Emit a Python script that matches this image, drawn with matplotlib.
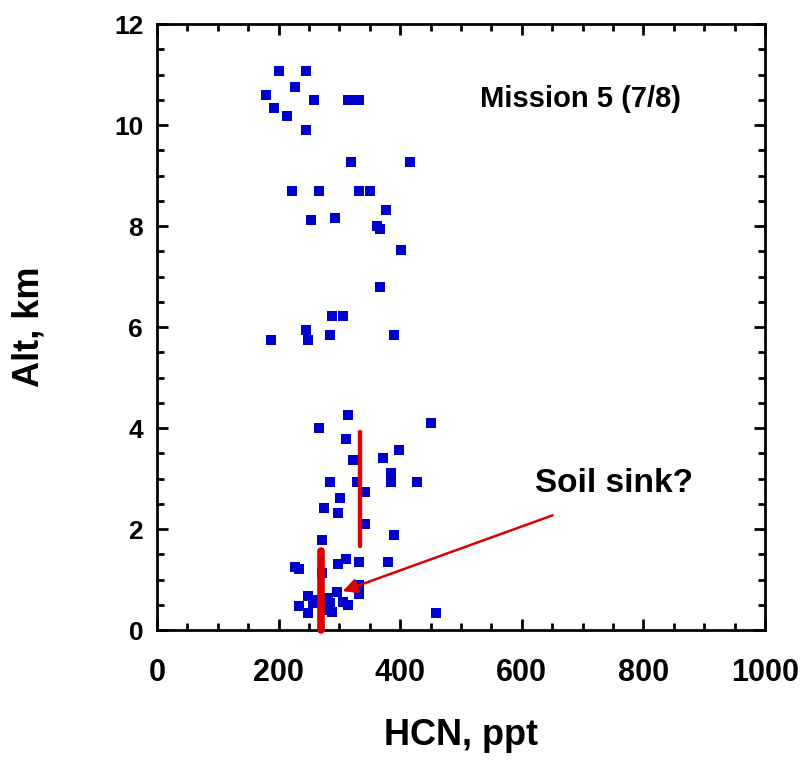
import numpy as np
import matplotlib
matplotlib.use('Agg')
import matplotlib.pyplot as plt
from matplotlib.ticker import MultipleLocator

plt.rc('font', family='Liberation Sans', weight='bold')

# HCN (ppt) and altitude (km)
hcn = [200.6, 244.6, 227.0, 178.7, 257.7, 314.7, 324.0, 332.0, 191.9, 213.0,
       244.6, 318.5, 415.6, 222.0, 266.4, 332.0, 349.8, 376.0, 253.3, 292.8,
       361.3, 366.8, 402.0, 366.8, 287.8, 305.4, 244.6, 187.0, 248.4, 284.5,
       389.8, 314.0, 450.7, 266.4, 310.9, 398.0, 322.9, 371.2, 384.3, 284.5,
       328.4, 384.3, 428.0, 342.6, 301.0, 274.7, 297.0, 342.6, 389.3, 271.4,
       310.4, 297.0, 332.2, 380.0, 227.0, 234.0, 271.0, 332.2, 332.2, 296.6,
       247.8, 281.8, 256.0, 234.0, 285.0, 287.0, 249.0, 306.0, 314.7, 458.4,
       262.0, 276.0, 280.0]
alt = [11.07, 11.07, 10.75, 10.60, 10.50, 10.50, 10.50, 10.50, 10.34, 10.18,
       9.90, 9.27, 9.27, 8.69, 8.69, 8.69, 8.69, 8.32, 8.12, 8.16,
       8.00, 7.95, 7.52, 6.80, 6.22, 6.22, 5.95, 5.74, 5.74, 5.84,
       5.84, 4.26, 4.10, 4.00, 3.78, 3.56, 3.37, 3.41, 3.10, 2.94,
       2.94, 2.94, 2.94, 2.73, 2.62, 2.42, 2.31, 2.10, 1.88, 1.78,
       1.41, 1.31, 1.35, 1.35, 1.25, 1.20, 1.13, 0.89, 0.71, 0.75,
       0.67, 0.63, 0.53, 0.47, 0.53, 0.36, 0.34, 0.56, 0.50, 0.34,
       0.60, 0.45, 0.40]

# red bars: x position and altitude range
low_x, low_y = 269, (0.0, 1.56)
high_x, high_y = 334.5, (1.66, 3.92)

fig = plt.figure(figsize=(8.04, 7.63), dpi=100)
ax = fig.add_axes([0.1953, 0.1743, 0.7562, 0.7942])

ax.plot(hcn, alt, 's', color='#0000cc', markersize=7.5, markeredgewidth=0, zorder=3)
ax.plot([low_x, low_x], low_y, color='#dd0000', lw=5.5, solid_capstyle='round',
        clip_on=False, zorder=4)
ax.plot([high_x, high_x], high_y, color='#dd0000', lw=3.2, solid_capstyle='round',
        zorder=4)
ax.annotate('', xy=(301, 0.75), xytext=(655, 2.29),
            arrowprops=dict(arrowstyle='-|>', color='#dd0000', lw=1.8,
                            mutation_scale=22), zorder=5)

ax.text(696, 10.36, 'Mission 5 (7/8)', fontsize=21, fontweight='bold',
        ha='center', va='baseline')
ax.text(751, 2.74, 'Soil sink?', fontsize=24, fontweight='bold',
        ha='center', va='baseline')

ax.set_xlim(0, 1000)
ax.set_ylim(0, 12)
ax.xaxis.set_major_locator(MultipleLocator(200))
ax.xaxis.set_minor_locator(MultipleLocator(50))
ax.yaxis.set_major_locator(MultipleLocator(2))
ax.yaxis.set_minor_locator(MultipleLocator(0.5))
ax.tick_params(which='both', direction='in', top=True, right=True, width=2)
ax.tick_params(which='major', length=8)
ax.tick_params(which='minor', length=5)
ax.tick_params(axis='y', labelsize=19, pad=10)
ax.tick_params(axis='x', labelsize=22, pad=20)
for lab in ax.get_xticklabels():
    lab.set_family(['Liberation Sans Narrow', 'Liberation Sans'])
for s in ax.spines.values():
    s.set_linewidth(2)

ax.set_xlabel('HCN, ppt', fontsize=26, fontweight='bold')
ax.set_ylabel('Alt, km', fontsize=26, fontweight='bold')
ax.xaxis.set_label_coords(0.5, -0.145)
ax.yaxis.set_label_coords(-0.182, 0.5)

fig.savefig('out.png', dpi=100)
